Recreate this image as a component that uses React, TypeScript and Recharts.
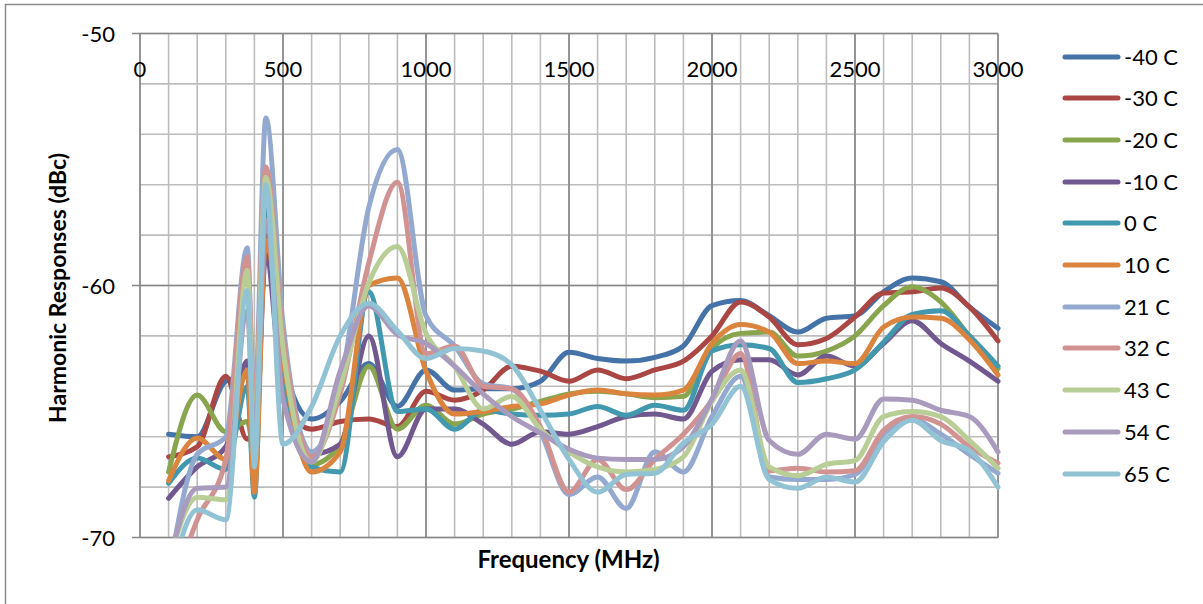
import {
  LineChart,
  Line,
  XAxis,
  YAxis,
  CartesianGrid,
  ReferenceLine,
  Legend,
} from "recharts";

// frequency points (MHz)
const freqs = [
  100, 200, 300, 375, 400, 440, 500, 600, 700, 800, 900, 1000, 1100, 1200,
  1300, 1400, 1500, 1600, 1700, 1800, 1900, 2000, 2100, 2200, 2300, 2400,
  2500, 2600, 2700, 2800, 2900, 3000,
];

// harmonic response (dBc) per temperature
const tM40 = [
  -65.9, -66.0, -63.8, -63.6, -66.0, -58.5, -63.0, -65.3, -64.6, -63.1, -64.8,
  -63.35, -64.15, -64.1, -64.1, -63.8, -62.65, -62.9, -63.0, -62.85, -62.4,
  -60.8, -60.6, -61.2, -61.85, -61.3, -61.2, -60.25, -59.7, -59.85, -60.85,
  -61.7,
];
const tM30 = [
  -66.8, -66.4, -63.6, -66.1, -65.5, -58.0, -64.5, -65.7, -65.4, -65.3, -65.6,
  -64.2, -64.55, -64.15, -63.2, -63.4, -63.8, -63.35, -63.7, -63.35, -63.0,
  -62.0, -60.65, -61.25, -62.35, -62.1, -61.25, -60.3, -60.25, -60.1, -60.85,
  -62.2,
];
const tM20 = [
  -67.4, -64.35, -65.8, -65.4, -66.5, -58.3, -64.0, -67.1, -66.3, -63.2, -65.7,
  -64.75, -65.5, -65.1, -64.9, -64.6, -64.3, -64.2, -64.3, -64.45, -64.4,
  -62.5, -61.9, -61.85, -62.8, -62.6, -62.0, -60.8, -60.05, -60.65, -62.0,
  -63.3,
];
const tM10 = [
  -68.45, -67.2, -66.4, -63.0, -67.0, -58.8, -64.5, -66.7, -66.3, -62.0, -66.8,
  -64.9, -64.9, -65.5, -66.3, -65.8, -65.9, -65.6, -65.2, -65.1, -65.3, -63.4,
  -62.95, -62.95, -63.55, -62.8, -63.2, -62.3, -61.4, -62.3, -63.0, -63.8,
];
const t0 = [
  -67.85, -66.85, -67.3, -64.0, -68.4, -57.0, -63.5, -67.2, -67.4, -60.25,
  -65.0, -64.9, -65.7, -64.95, -65.1, -65.15, -65.1, -64.8, -65.15, -64.75,
  -64.95, -62.6, -62.35, -62.5, -63.85, -63.7, -63.35, -62.25, -61.15, -61.0,
  -62.0, -63.2,
];
const t10 = [
  -67.75, -66.05, -66.9, -63.35, -68.2, -58.2, -63.0, -67.4, -66.6, -60.0,
  -59.7, -63.4, -65.1, -65.0, -64.8, -64.7, -64.35, -64.15, -64.3, -64.35,
  -64.15, -62.3, -61.55, -61.85, -63.1, -63.0, -63.1, -61.65, -61.25, -61.3,
  -62.15, -63.55,
];
const t21 = [
  -71.5, -66.7, -66.0, -58.5, -65.0, -53.35, -61.5, -66.6, -64.0, -56.9, -54.6,
  -61.2, -62.4, -63.9, -64.1, -65.8, -68.3, -67.6, -68.85, -66.6, -67.4,
  -65.2, -63.6, -67.6, -67.7, -67.7, -67.5, -65.9, -65.3, -65.9, -66.7, -67.45,
];
const t32 = [
  -72.5, -69.3, -66.9, -58.86, -65.0, -55.3, -62.0, -66.8, -64.3, -59.1, -55.9,
  -62.7, -62.4, -64.0, -64.1, -65.6, -68.2, -66.9, -68.1, -66.9, -65.9,
  -64.55, -62.7, -67.35, -67.25, -67.4, -67.35, -65.75, -65.2, -65.5, -66.4,
  -67.05,
];
const t43 = [
  -71.0, -68.4, -68.5, -59.4, -66.0, -55.7, -62.5, -67.0, -64.0, -59.9, -58.45,
  -61.9, -63.2, -64.9, -64.4, -65.7, -66.6, -67.2, -67.4, -67.3, -66.8, -64.6,
  -63.35, -67.2, -67.55, -67.1, -66.95, -65.2, -65.0, -65.2, -66.15, -67.25,
];
const t54 = [
  -71.0, -68.05, -68.0, -61.0, -66.0, -57.4, -64.5, -67.0, -63.4, -60.8,
  -61.95, -62.3, -63.2, -64.3, -65.2, -65.85, -66.5, -66.85, -66.9, -66.9,
  -66.4, -64.5, -62.2, -66.15, -66.7, -65.9, -66.1, -64.5, -64.55, -64.95,
  -65.2, -66.6,
];
const t65 = [
  -72.0, -68.9, -69.3, -60.2, -67.2, -56.0, -66.3, -64.8, -62.0, -60.7, -61.8,
  -62.9, -62.5, -62.6, -63.15, -64.95, -66.9, -68.2, -67.5, -67.45, -66.25,
  -65.5, -64.0, -67.7, -68.05, -67.6, -67.8, -66.2, -65.35, -66.15, -66.55,
  -68.0,
];

const seriesNames = [
  "-40 C", "-30 C", "-20 C", "-10 C", "0 C", "10 C",
  "21 C", "32 C", "43 C", "54 C", "65 C",
];
const seriesValues = [tM40, tM30, tM20, tM10, t0, t10, t21, t32, t43, t54, t65];
const seriesColors = [
  "#4572A7", "#AA4643", "#89A54E", "#71588F", "#4198AF", "#DB843D",
  "#93A9CF", "#D19392", "#B9CD96", "#A99BBD", "#92C3D4",
];

// axis ticks
const xGridTicks = [
  0, 100, 200, 300, 400, 500, 600, 700, 800, 900, 1000, 1100, 1200, 1300,
  1400, 1500, 1600, 1700, 1800, 1900, 2000, 2100, 2200, 2300, 2400, 2500,
  2600, 2700, 2800, 2900, 3000,
];
const xLabelTicks = [0, 500, 1000, 1500, 2000, 2500, 3000];
const yGridTicks = [-70, -68, -66, -64, -62, -60, -58, -56, -54, -52, -50];
const yLabelTicks = [-70, -60, -50];
const xMajor = [500, 1000, 1500, 2000, 2500, 3000];
const yMajor = [-60, -70];

const rows = freqs.map((f, i) => {
  const r: Record<string, number> = { f };
  seriesValues.forEach((s, k) => {
    r[`s${k}`] = s[i];
  });
  return r;
});

const FONT = "Lato, 'Open Sans', sans-serif";
const AXIS_GRAY = "#878787";

function FreqTick(props: any) {
  const { x, payload } = props;
  if (!xLabelTicks.includes(payload.value)) return <g />;
  return (
    <text
      x={x}
      y={77}
      textAnchor="middle"
      fontSize={22}
      fontFamily={FONT}
      fill="#000"
    >
      {payload.value}
    </text>
  );
}

function DbTick(props: any) {
  const { y, payload } = props;
  if (!yLabelTicks.includes(payload.value)) return <g />;
  return (
    <g>
      <line x1={132} x2={140} y1={y} y2={y} stroke={AXIS_GRAY} strokeWidth={1.5} />
      <text
        x={115}
        y={y + 8}
        textAnchor="end"
        fontSize={22}
        fontFamily={FONT}
        fill="#000"
      >
        {payload.value}
      </text>
    </g>
  );
}

function LegendBox(props: any) {
  // keep the series order, the legend sorts by name otherwise
  const items = [...(props.payload || [])].sort(
    (a: any, b: any) => seriesNames.indexOf(a.value) - seriesNames.indexOf(b.value)
  );
  return (
    <div style={{ fontFamily: FONT, fontSize: 22, color: "#000" }}>
      {items.map((it: any) => (
        <div
          key={it.value}
          style={{ height: 41.7, display: "flex", alignItems: "center" }}
        >
          <svg width={60} height={10} style={{ display: "block" }}>
            <line
              x1={3}
              x2={56}
              y1={5}
              y2={5}
              stroke={it.color}
              strokeWidth={5}
              strokeLinecap="round"
            />
          </svg>
          <span style={{ marginLeft: 2, lineHeight: "22px" }}>{it.value}</span>
        </div>
      ))}
    </div>
  );
}

export default function App() {
  return (
    <div
      style={{
        position: "absolute",
        left: 0,
        top: 0,
        width: 1203,
        height: 604,
        overflow: "hidden",
        background: "#fff",
      }}
    >
      <LineChart
        width={1203}
        height={604}
        data={rows}
        margin={{ top: 3.5, left: 80, right: 205, bottom: 66.5 }}
      >
        <CartesianGrid stroke="#BDBDBD" strokeWidth={1.6} />
        {xMajor.map((v) => (
          <ReferenceLine key={`x${v}`} x={v} stroke={AXIS_GRAY} strokeWidth={1.6} />
        ))}
        {yMajor.map((v) => (
          <ReferenceLine key={`y${v}`} y={v} stroke={AXIS_GRAY} strokeWidth={1.6} />
        ))}
        <XAxis
          dataKey="f"
          type="number"
          orientation="top"
          domain={[0, 3000]}
          ticks={xGridTicks}
          interval={0}
          height={30}
          tickLine={false}
          axisLine={{ stroke: AXIS_GRAY, strokeWidth: 1.6 }}
          tick={<FreqTick />}
        />
        <YAxis
          type="number"
          domain={[-70, -50]}
          ticks={yGridTicks}
          interval={0}
          allowDataOverflow
          width={60}
          tickLine={false}
          axisLine={{ stroke: AXIS_GRAY, strokeWidth: 1.6 }}
          tick={<DbTick />}
        />
        <Legend
          layout="vertical"
          align="center"
          verticalAlign="middle"
          wrapperStyle={{ left: 1062, top: 35.8, width: 140 }}
          content={<LegendBox />}
        />
        {seriesNames.map((name, k) => (
          <Line
            key={name}
            name={name}
            dataKey={`s${k}`}
            type="monotone"
            stroke={seriesColors[k]}
            strokeWidth={5}
            strokeLinecap="round"
            strokeLinejoin="round"
            dot={false}
            activeDot={false}
            isAnimationActive={false}
          />
        ))}
      </LineChart>
      <svg
        width={1203}
        height={604}
        style={{ position: "absolute", left: 0, top: 0, pointerEvents: "none" }}
      >
        <path d="M5.5 604 V4.5 H1203" fill="none" stroke="#8C8C8C" strokeWidth={1.5} />
        <text
          x={568.5}
          y={568}
          textAnchor="middle"
          fontSize={24}
          fontWeight="bold"
          fontFamily={FONT}
          fill="#000"
        >
          Frequency (MHz)
        </text>
        <text
          transform="translate(66 288) rotate(-90)"
          textAnchor="middle"
          fontSize={23}
          fontWeight="bold"
          fontFamily={FONT}
          fill="#000"
        >
          Harmonic Responses (dBc)
        </text>
      </svg>
    </div>
  );
}
